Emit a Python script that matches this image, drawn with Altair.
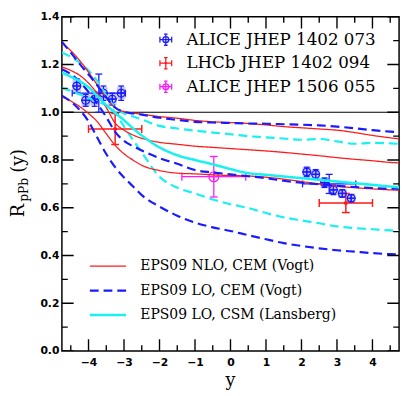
import altair as alt
import pandas as pd

# ---------------- theory curves (rapidity grid and R_pPb values) ----------------
y_grid = [-4.75, -4.5, -4.25, -4.0, -3.75, -3.5, -3.25, -3.0, -2.75, -2.5,
          -2.0, -1.5, -1.0, -0.5, 0.0, 0.5, 1.0, 1.5, 2.0, 2.5, 3.0, 3.5, 4.0, 4.5, 4.75]

nlo_upper = [1.29, 1.258, 1.217, 1.168, 1.114, 1.062, 1.018, 1.003, 0.997, 0.992,
             0.982, 0.975, 0.966, 0.96, 0.957, 0.953, 0.947, 0.94, 0.935, 0.93,
             0.925, 0.915, 0.903, 0.893, 0.889]
nlo_middle = [1.19, 1.175, 1.155, 1.122, 1.078, 1.02, 0.955, 0.925, 0.905, 0.891,
              0.874, 0.866, 0.858, 0.853, 0.848, 0.843, 0.838, 0.832, 0.825, 0.818,
              0.81, 0.803, 0.797, 0.79, 0.788]
nlo_lower = [1.065, 1.047, 1.024, 0.995, 0.96, 0.91, 0.862, 0.826, 0.8, 0.778,
             0.756, 0.745, 0.742, 0.738, 0.735, 0.733, 0.728, 0.72, 0.71, 0.7,
             0.69, 0.684, 0.679, 0.675, 0.673]
lo_cem_upper = [1.295, 1.25, 1.203, 1.158, 1.112, 1.062, 1.02, 1.002, 0.995, 0.99,
                0.977, 0.968, 0.96, 0.957, 0.955, 0.953, 0.952, 0.95, 0.948, 0.945,
                0.94, 0.933, 0.925, 0.919, 0.916]
lo_cem_middle = [1.18, 1.16, 1.128, 1.085, 1.035, 0.98, 0.918, 0.88, 0.858, 0.84,
                 0.808, 0.784, 0.758, 0.748, 0.74, 0.732, 0.724, 0.713, 0.705, 0.698,
                 0.692, 0.687, 0.683, 0.68, 0.68]
lo_cem_lower = [1.07, 1.045, 1.01, 0.962, 0.893, 0.825, 0.77, 0.727, 0.69, 0.653,
                0.605, 0.567, 0.538, 0.518, 0.503, 0.485, 0.468, 0.452, 0.44, 0.43,
                0.422, 0.416, 0.41, 0.406, 0.405]
csm_central = [1.166, 1.149, 1.13, 1.105, 1.068, 1.03, 0.998, 0.967, 0.933, 0.903,
               0.853, 0.82, 0.8, 0.782, 0.762, 0.745, 0.738, 0.731, 0.724, 0.717,
               0.71, 0.703, 0.696, 0.689, 0.686]
csm_upper = [1.25, 1.232, 1.208, 1.175, 1.13, 1.07, 1.02, 0.995, 0.982, 0.97,
             0.943, 0.932, 0.923, 0.915, 0.908, 0.9, 0.895, 0.89, 0.885, 0.888,
             0.878, 0.868, 0.872, 0.87, 0.868]
csm_lower = [1.10, 1.09, 1.075, 1.06, 1.045, 1.03, 1.0, 0.94, 0.885, 0.832,
             0.73, 0.684, 0.66, 0.635, 0.615, 0.599, 0.578, 0.56, 0.547, 0.535,
             0.522, 0.515, 0.51, 0.505, 0.503]

model_names = ["EPS09 NLO, CEM (Vogt)", "EPS09 LO, CEM (Vogt)", "EPS09 LO, CSM (Lansberg)"]

# ---------------- data points ----------------
exp_names = ["ALICE JHEP 1402 073", "LHCb JHEP 1402 094", "ALICE JHEP 1506 055"]

alice_y = [-4.33, -4.08, -3.83, -3.58, -3.33, -3.08, 2.15, 2.40, 2.65, 2.90, 3.15, 3.40]
alice_r = [1.11, 1.05, 1.055, 1.08, 1.055, 1.08, 0.75, 0.74, 0.705, 0.675, 0.66, 0.64]
alice_stat = [0.03, 0.025, 0.03, 0.03, 0.025, 0.03, 0.02, 0.02, 0.02, 0.02, 0.015, 0.015]
alice_syst = [0.03, 0.025, 0.025, 0.025, 0.025, 0.025, 0.02, 0.02, 0.02, 0.02, 0.02, 0.02]
alice_dy = [0.125] * 12

alice_int_y = [-3.71, 2.78]
alice_int_r = [1.08, 0.70]
alice_int_err = [0.08, 0.04]
alice_int_dy = [0.75, 0.75]

lhcb_y = [-3.25, 3.25]
lhcb_r = [0.93, 0.62]
lhcb_err = [0.065, 0.04]
lhcb_dy = [0.75, 0.75]

alice2_y = [-0.47]
alice2_r = [0.73]
alice2_err = [0.085]
alice2_dy = [0.9]

# tick values
x_major = [-4, -3, -2, -1, 0, 1, 2, 3, 4]
x_minor = [-4.5, -3.5, -2.5, -1.5, -0.5, 0.5, 1.5, 2.5, 3.5, 4.5]
y_major = [0.0, 0.2, 0.4, 0.6, 0.8, 1.0, 1.2, 1.4]
y_minor = [0.1, 0.3, 0.5, 0.7, 0.9, 1.1, 1.3]
x_lim = [-4.75, 4.75]
y_lim = [0.0, 1.4]

# ---------------- styles ----------------
RED, BLUE, CYAN, MAGENTA = "#ff1a1a", "#1a1aff", "#19f0f0", "#ff19ff"
SERIF = "DejaVu Serif"

# ---------------- tables ----------------
rows = []
for model, cname, vals in [(model_names[0], "nlo_u", nlo_upper), (model_names[0], "nlo_m", nlo_middle),
                           (model_names[0], "nlo_l", nlo_lower), (model_names[1], "lo_u", lo_cem_upper),
                           (model_names[1], "lo_m", lo_cem_middle), (model_names[1], "lo_l", lo_cem_lower),
                           (model_names[2], "csm_c", csm_central)]:
    for yy, rr in zip(y_grid, vals):
        rows.append({"model": model, "curve": cname, "y": yy, "R": rr})
curves_df = pd.DataFrame(rows)

band_rows = []
for cname, vals in [("csm_u", csm_upper), ("csm_l", csm_lower)]:
    for yy, rr in zip(y_grid, vals):
        band_rows.append({"curve": cname, "y": yy, "R": rr})
band_df = pd.DataFrame(band_rows)

alice_df = pd.DataFrame({
    "y": alice_y, "r": alice_r,
    "ylo": [a - d for a, d in zip(alice_y, alice_dy)], "yhi": [a + d for a, d in zip(alice_y, alice_dy)],
    "rlo": [a - e for a, e in zip(alice_r, alice_stat)], "rhi": [a + e for a, e in zip(alice_r, alice_stat)],
    "blo": [a - 0.12 for a in alice_y], "bhi": [a + 0.12 for a in alice_y],
    "slo": [a - e for a, e in zip(alice_r, alice_syst)], "shi": [a + e for a, e in zip(alice_r, alice_syst)],
})


def err_table(ys, rs, es, ds):
    return pd.DataFrame({
        "y": ys, "r": rs,
        "ylo": [a - d for a, d in zip(ys, ds)], "yhi": [a + d for a, d in zip(ys, ds)],
        "rlo": [a - e for a, e in zip(rs, es)], "rhi": [a + e for a, e in zip(rs, es)],
    })


alice_int_df = err_table(alice_int_y, alice_int_r, alice_int_err, alice_int_dy)
lhcb_df = err_table(lhcb_y, lhcb_r, lhcb_err, lhcb_dy)
alice2_df = err_table(alice2_y, alice2_r, alice2_err, alice2_dy)

# ---------------- scales / axes ----------------
xs = alt.Scale(domain=x_lim, nice=False, zero=False)
ys = alt.Scale(domain=y_lim, nice=False, zero=False)


def X(f, axis=None):
    return alt.X(f, type="quantitative", scale=xs, axis=axis)


def Y(f, axis=None):
    return alt.Y(f, type="quantitative", scale=ys, axis=axis)


common = dict(domain=False, grid=False, title=None, ticks=False, tickSize=0, offset=0)
ax_xb = alt.Axis(orient="bottom", values=x_major, labelPadding=6, format="d", **common)
ax_yl = alt.Axis(orient="left", values=y_major, labelPadding=3, format=".1f", **common)

# ---------------- legends ----------------
line_legend = alt.Legend(title=None, orient="none", legendX=27, legendY=242.0, direction="vertical",
                         padding=0, clipHeight=24.7, rowPadding=0, symbolSize=1369, symbolType="stroke",
                         labelFont=SERIF, labelFontSize=14.2, labelOffset=13, labelLimit=500,
                         labelColor="black")

sym_alice = ("M-1,0L-0.5,0M0.5,0L1,0M-1,-0.5L-1,0.5M1,-0.5L1,0.5"
             "M0,-0.95L0,-0.5M0,0.5L0,0.95M-0.3,-0.95L0.3,-0.95M-0.3,0.95L0.3,0.95"
             "M-0.5,0A0.5,0.5 0 1,0 0.5,0A0.5,0.5 0 1,0 -0.5,0M-0.5,0L0.5,0M0,-0.5L0,0.5")
sym_lhcb = ("M-1,0L1,0M-1,-0.5L-1,0.5M1,-0.5L1,0.5M0,-0.95L0,0.95"
            "M-0.3,-0.95L0.3,-0.95M-0.3,0.95L0.3,0.95"
            "M-0.12,0A0.12,0.12 0 1,0 0.12,0A0.12,0.12 0 1,0 -0.12,0")
exp_legend = alt.Legend(title=None, orient="none", legendX=97.5, legendY=11.4, direction="vertical",
                        padding=0, clipHeight=23.9, rowPadding=0, symbolSize=144, symbolStrokeWidth=1.3,
                        labelFont=SERIF, labelFontSize=17, labelOffset=12.5, labelLimit=500,
                        labelColor="black")

circ_cross = "M-1,0A1,1 0 1,0 1,0A1,1 0 1,0 -1,0M-1,0L1,0M0,-1L0,1"
hcap = "M-1,0L1,0"
vcap = "M0,-1L0,1"

layers = []

# unity line
layers.append(alt.Chart(pd.DataFrame({"R": [1.0]})).mark_rule(color="black", strokeWidth=1.2)
              .encode(y=Y("R")))

# ALICE 1402 073 systematic boxes
layers.append(alt.Chart(alice_df).mark_rect(fill="#5a5aff", opacity=0.35)
              .encode(x=X("blo"), x2=alt.X2("bhi"), y=Y("slo"), y2=alt.Y2("shi")))


def errbars(df, color, size_cap, hcaps, width=1.3):
    out = []
    base = alt.Chart(df)
    out.append(base.mark_rule(color=color, strokeWidth=width)
               .encode(x=X("y"), y=Y("rlo"), y2=alt.Y2("rhi")))
    out.append(base.mark_rule(color=color, strokeWidth=width)
               .encode(x=X("ylo"), x2=alt.X2("yhi"), y=Y("r")))
    out.append(base.transform_fold(["rlo", "rhi"], as_=["end", "rv"])
               .mark_point(shape=hcap, size=size_cap, color=color, strokeWidth=width, filled=False, opacity=1)
               .encode(x=X("y"), y=Y("rv:Q")))
    if hcaps:
        out.append(base.transform_fold(["ylo", "yhi"], as_=["end", "yv"])
                   .mark_point(shape=vcap, size=size_cap, color=color, strokeWidth=width, filled=False, opacity=1)
                   .encode(x=X("yv:Q"), y=Y("r")))
    return out


layers += errbars(alice_df, BLUE, 36, False)
layers += errbars(alice_int_df, BLUE, 49, True)
layers += errbars(lhcb_df, RED, 64, True, width=1.5)
layers += errbars(alice2_df, MAGENTA, 64, True)

layers.append(alt.Chart(alice_df).mark_point(shape=circ_cross, size=64, color=BLUE, strokeWidth=1.2,
                                             filled=False, opacity=1)
              .encode(x=X("y"), y=Y("r")))
layers.append(alt.Chart(lhcb_df).mark_point(shape="circle", size=18, color=RED, filled=True, opacity=1)
              .encode(x=X("y"), y=Y("r")))
layers.append(alt.Chart(alice2_df).mark_point(shape=circ_cross, size=100, color=MAGENTA, strokeWidth=1.3,
                                              filled=False, opacity=1)
              .encode(x=X("y"), y=Y("r")))

# theory curves
layers.append(alt.Chart(band_df).mark_line(interpolate="monotone", color=CYAN, strokeDash=[9, 5],
                                           strokeWidth=2.2, clip=True)
              .encode(x=X("y"), y=Y("R"), detail="curve:N"))
layers.append(alt.Chart(curves_df).mark_line(interpolate="monotone", clip=True)
              .encode(x=X("y", ax_xb), y=Y("R", ax_yl), detail="curve:N",
                      color=alt.Color("model:N", scale=alt.Scale(domain=model_names, range=[RED, BLUE, CYAN]),
                                      legend=line_legend),
                      strokeDash=alt.StrokeDash("model:N", scale=alt.Scale(domain=model_names,
                                                                           range=[[1, 0], [9, 5], [1, 0]]),
                                                legend=line_legend),
                      strokeWidth=alt.StrokeWidth("model:N", scale=alt.Scale(type="ordinal", domain=model_names,
                                                                             range=[1.3, 2.2, 2.6]),
                                                  legend=line_legend)))

# inward ticks on all four sides (clipped to the frame)
MAJ, MIN = 12, 6
for vals, length in [(x_major, MAJ), (x_minor, MIN)]:
    for edge in y_lim:
        layers.append(alt.Chart(pd.DataFrame({"v": vals}))
                      .mark_tick(orient="vertical", size=2 * length, thickness=1.4, color="black",
                                 clip=True, opacity=1)
                      .encode(x=X("v"), y=alt.YDatum(edge, axis=None)))
for vals, length in [(y_major, MAJ), (y_minor, MIN)]:
    for edge in x_lim:
        layers.append(alt.Chart(pd.DataFrame({"v": vals}))
                      .mark_tick(orient="horizontal", size=2 * length, thickness=1.4, color="black",
                                 clip=True, opacity=1)
                      .encode(y=Y("v"), x=alt.XDatum(edge, axis=None)))

# experiment legend (symbols only)
layers.append(alt.Chart(pd.DataFrame({"exp": exp_names})).transform_filter("false")
              .mark_point(filled=False, strokeWidth=1.3, opacity=1)
              .encode(shape=alt.Shape("exp:N", scale=alt.Scale(domain=exp_names,
                                                               range=[sym_alice, sym_lhcb, sym_alice]),
                                      legend=exp_legend),
                      stroke=alt.Stroke("exp:N", scale=alt.Scale(domain=exp_names,
                                                                 range=[BLUE, RED, MAGENTA]),
                                        legend=exp_legend)))

# axis titles
layers.append(alt.Chart(pd.DataFrame({"t": ["R"]})).mark_text(angle=270, align="left", baseline="alphabetic",
                                                               font=SERIF, fontSize=18, color="black")
              .encode(x=alt.value(-39), y=alt.value(204.6), text="t:N"))
layers.append(alt.Chart(pd.DataFrame({"t": ["pPb"]})).mark_text(angle=270, align="left", baseline="alphabetic",
                                                                 font=SERIF, fontSize=12.5, color="black")
              .encode(x=alt.value(-35), y=alt.value(188.8), text="t:N"))
layers.append(alt.Chart(pd.DataFrame({"t": ["(y)"]})).mark_text(angle=270, align="left", baseline="alphabetic",
                                                                 font=SERIF, fontSize=18, color="black")
              .encode(x=alt.value(-39), y=alt.value(159.1), text="t:N"))
layers.append(alt.Chart(pd.DataFrame({"t": ["y"]})).mark_text(align="center", baseline="alphabetic",
                                                               font=SERIF, fontSize=18, color="black")
              .encode(x=alt.value(172), y=alt.value(377), text="t:N"))

chart = (alt.layer(*layers)
         .resolve_axis(x="independent", y="independent")
         .properties(width=344, height=341, autosize=alt.AutoSizeParams(type="none"),
                     padding={"left": 55, "top": 5, "right": 4, "bottom": 45})
         .configure_view(stroke="black", strokeWidth=1.5)
         .configure_axis(labelFont="DejaVu Sans", labelFontWeight="bold", labelFontSize=11, labelColor="black",
                         grid=False, domain=False))

chart.save("out.html", embed_options={"renderer": "svg", "actions": False})
